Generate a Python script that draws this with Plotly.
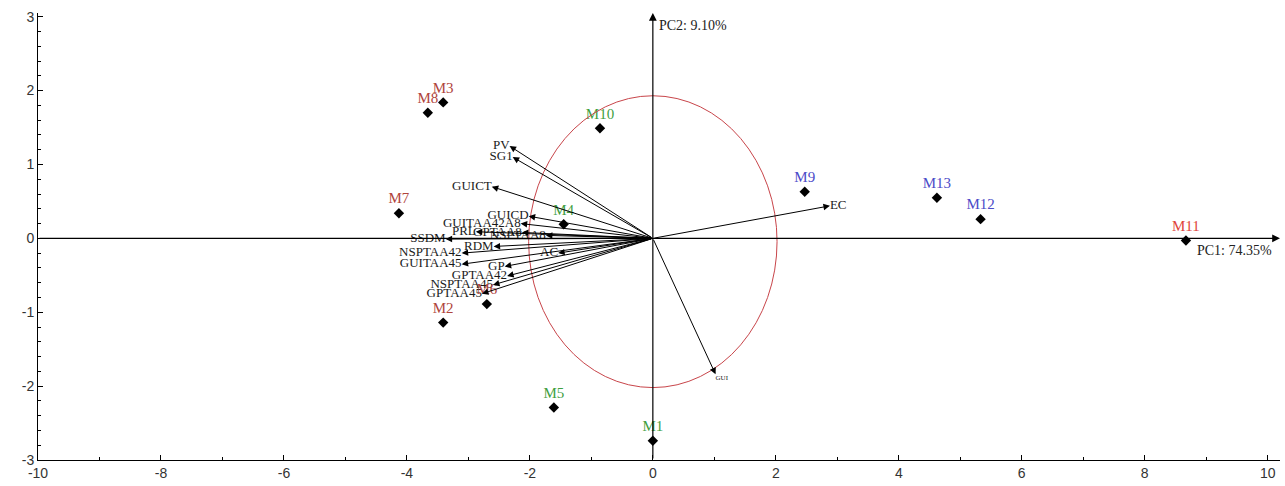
import plotly.graph_objects as go

# Sample scores (PC1, PC2)
samples = ["M1", "M2", "M3", "M4", "M5", "M6", "M7", "M8", "M9", "M10", "M11", "M12", "M13"]
pc1_scores = [0.00, -3.41, -3.41, -1.45, -1.61, -2.70, -4.13, -3.66, 2.47, -0.86, 8.67, 5.33, 4.62]
pc2_scores = [-2.74, -1.14, 1.84, 0.19, -2.29, -0.89, 0.34, 1.70, 0.63, 1.49, -0.03, 0.26, 0.55]
sample_groups = ["g", "r", "r", "g", "g", "r", "r", "r", "b", "g", "r2", "b", "b"]

# Variable loadings (PC1, PC2)
variables = ["PV", "SG1", "GUICT", "GUICD", "GUITAA42A8", "PRL", "GPTAA8", "NSPTAA8",
             "SSDM", "RDM", "NSPTAA42", "AC", "GUITAA45", "GP", "GPTAA42", "NSPTAA45",
             "GPTAA45", "EC", "GUI"]
load_pc1 = [-2.33, -2.28, -2.62, -2.02, -2.15, -2.88, -2.13, -1.74,
            -3.37, -2.59, -3.11, -1.54, -3.11, -2.41, -2.37, -2.60,
            -2.78, 2.88, 1.02]
load_pc2 = [1.25, 1.10, 0.70, 0.30, 0.20, 0.09, 0.08, 0.04,
            -0.01, -0.11, -0.20, -0.20, -0.35, -0.38, -0.51, -0.63,
            -0.75, 0.44, -1.84]

pc1_label = "PC1: 74.35%"
pc2_label = "PC2: 9.10%"
circle_radius = 2.0

x_ticks = list(range(-10, 11, 2))
y_ticks = [-3, -2, -1, 0, 1, 2, 3]

x_range = [-10, 10.2]
y_range = [-3, 3.05]

group_colors = {"r": "#b0443c", "r2": "#e0453c", "g": "#3fa03f", "b": "#4b4bc8"}
serif = "Liberation Serif"

fig = go.Figure()

# correlation circle
fig.add_shape(type="circle", xref="x", yref="y",
              x0=-circle_radius * 1.01, x1=circle_radius * 1.01,
              y0=-circle_radius * 1.01, y1=circle_radius * 0.965,
              line=dict(color="#c8454a", width=1))

# axes through origin with arrows
annotations = [
    dict(x=x_range[1], y=0, ax=x_range[0], ay=0, xref="x", yref="y", axref="x", ayref="y",
         text="", showarrow=True, arrowhead=2, arrowsize=1.3, arrowwidth=1.2, arrowcolor="black"),
    dict(x=0, y=y_range[1], ax=0, ay=y_range[0], xref="x", yref="y", axref="x", ayref="y",
         text="", showarrow=True, arrowhead=2, arrowsize=1.3, arrowwidth=1.2, arrowcolor="black"),
    dict(x=x_range[1], y=0, xref="x", yref="y", text=pc1_label, showarrow=False,
         xanchor="right", yanchor="top", xshift=-6, yshift=-3, font=dict(family=serif, size=14, color="#222")),
    dict(x=0, y=y_range[1], xref="x", yref="y", text=pc2_label, showarrow=False,
         xanchor="left", yanchor="top", xshift=4, yshift=-3, font=dict(family=serif, size=14, color="#222")),
]

# loading arrows
for vx, vy in zip(load_pc1, load_pc2):
    annotations.append(dict(x=vx, y=vy, ax=0, ay=0, xref="x", yref="y", axref="x", ayref="y",
                            text="", showarrow=True, arrowhead=2, arrowsize=1.3,
                            arrowwidth=1, arrowcolor="black"))

positions = []
sizes = []
for v in variables:
    if v == "EC":
        positions.append("middle right")
        sizes.append(13)
    elif v == "GUI":
        positions.append("bottom right")
        sizes.append(7)
    else:
        positions.append("middle left")
        sizes.append(13)

fig.add_trace(go.Scatter(
    x=load_pc1, y=load_pc2, mode="text", text=variables, textposition=positions,
    textfont=dict(family=serif, size=sizes, color="#1a1a1a"), hoverinfo="skip", showlegend=False))

# samples
fig.add_trace(go.Scatter(
    x=pc1_scores, y=pc2_scores, mode="markers+text", text=samples, textposition="top center",
    marker=dict(symbol="diamond", size=8, color="black"),
    textfont=dict(family=serif, size=15, color=[group_colors[g] for g in sample_groups]),
    showlegend=False))

fig.update_layout(
    width=1285, height=486,
    margin=dict(l=38, r=5, t=13, b=23),
    paper_bgcolor="white", plot_bgcolor="white",
    annotations=annotations,
    xaxis=dict(range=x_range, tickmode="array", tickvals=x_ticks, ticktext=[str(v) for v in x_ticks],
               showgrid=False, zeroline=False, showline=True, linecolor="black", linewidth=1,
               ticks="inside", ticklen=5, tickcolor="black",
               minor=dict(tickvals=list(range(-9, 10, 2)), ticks="inside", ticklen=3, tickcolor="black"),
               tickfont=dict(family="Liberation Sans", size=14, color="#333")),
    yaxis=dict(range=y_range, tickmode="array", tickvals=y_ticks, ticktext=[str(v) for v in y_ticks],
               showgrid=False, zeroline=False, showline=True, linecolor="black", linewidth=1,
               ticks="inside", ticklen=5, tickcolor="black",
               minor=dict(dtick=0.2, ticks="inside", ticklen=3, tickcolor="black"),
               tickfont=dict(family="Liberation Sans", size=14, color="#333")),
)

fig.write_html("out.html", config={"displayModeBar": False},
               post_script="document.body.style.margin='0';")
